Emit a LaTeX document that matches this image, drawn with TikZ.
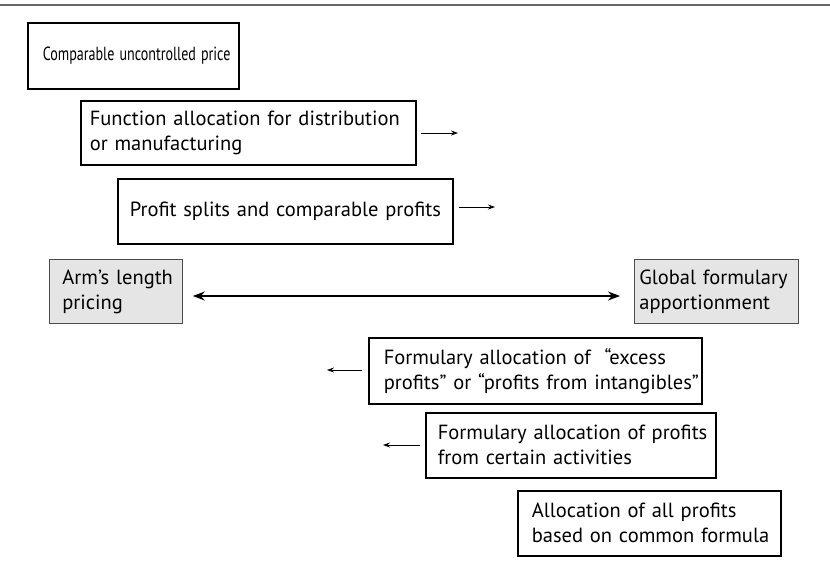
\documentclass[tikz,border=0pt]{standalone}
\usepackage{fontspec}
\setmainfont{PT Sans}
\usetikzlibrary{arrows.meta}
\newcommand{\boxfont}{\fontsize{20.5}{25}\selectfont\hyphenpenalty10000\exhyphenpenalty10000\relax}
\newcommand{\oneline}[1]{\mbox{#1}}
\begin{document}
\begin{tikzpicture}[x=1pt,y=-1pt,
  txt/.style={anchor=north west,align=left,inner ysep=2pt,font=\boxfont},
  box/.style={txt,draw=black,line width=1.6pt},
  graybox/.style={txt,draw=black!70,line width=0.8pt,fill=black!10},
  small/.style={-{Stealth[length=7pt,width=5pt]},line width=0.8pt},
  big/.style={{Stealth[length=12pt,width=9pt]}-{Stealth[length=12pt,width=9pt]},line width=1.4pt}]
\useasboundingbox (0,0) rectangle (830,574);
\draw[black!60,line width=1.5pt] (0,5) -- (830,5);
% boxes
\node[box,inner xsep=15pt,text width=181pt,minimum height=66pt] (cup) at (27,22) {\scalebox{0.74}[1]{\fontsize{19}{23}\selectfont Comparable uncontrolled price}};
\node[box,inner xsep=9pt,text width=317pt,minimum height=64pt] (fa) at (80,100) {\oneline{Function allocation for distribution}\\\oneline{or manufacturing}};
\node[box,inner xsep=12pt,text width=311pt,minimum height=65pt] (ps) at (117,178) {\oneline{Profit splits and comparable profits}};
\node[graybox,inner xsep=13pt,text width=107pt,minimum height=64pt] (alp) at (49,259) {\oneline{Arm’s length}\\\oneline{pricing}};
\node[graybox,inner xsep=5pt,text width=154pt,minimum height=64pt] (gfa) at (634,259) {\oneline{Global formulary}\\\oneline{apportionment}};
\node[box,inner xsep=15pt,text width=303pt,minimum height=66pt] (f1) at (368,337) {\oneline{Formulary allocation of ~“excess}\\\oneline{profits” or “profits from intangibles”}};
\node[box,inner xsep=12pt,text width=266pt,minimum height=65pt] (f2) at (425,412) {\oneline{Formulary allocation of profits}\\\oneline{from certain activities}};
\node[box,inner xsep=14pt,text width=235pt,minimum height=65pt] (f3) at (517,490) {\oneline{Allocation of all profits}\\\oneline{based on common formula}};
% arrows
\coordinate (a2s) at (421,133); \coordinate (a2e) at (458,133);
\coordinate (a3s) at (459,207); \coordinate (a3e) at (495,207);
\coordinate (a4s) at (362,370); \coordinate (a4e) at (327,370);
\coordinate (a5s) at (420,445); \coordinate (a5e) at (383,445);
\draw[small] (a2s) -- (a2e);
\draw[small] (a3s) -- (a3e);
\draw[small] (a4s) -- (a4e);
\draw[small] (a5s) -- (a5e);
\draw[big] ([xshift=10pt]alp.east|-0,296) -- ([xshift=-14pt]gfa.west|-0,296);
\end{tikzpicture}
\end{document}
